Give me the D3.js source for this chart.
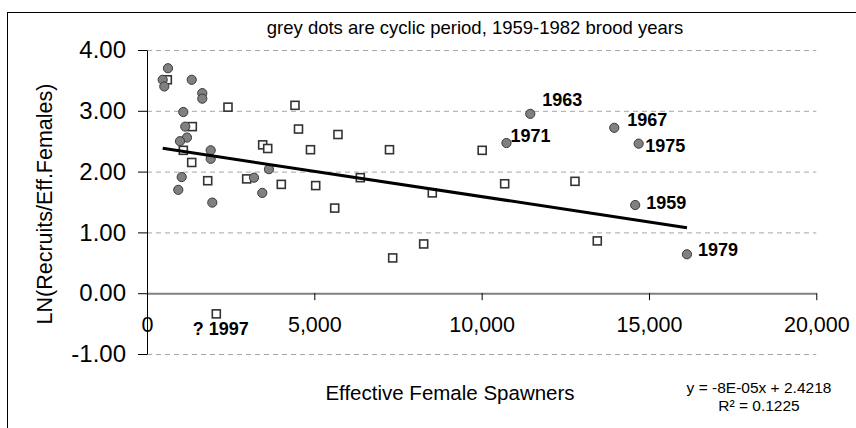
<!DOCTYPE html>
<html>
<head>
<meta charset="utf-8">
<script src="https://cdn.jsdelivr.net/npm/d3@7"></script>
<style>
body { margin: 0; background: #fff; }
svg { display: block; font-family: Arial, "Liberation Sans", sans-serif; }
.grid line { stroke: #a6a6a6; stroke-dasharray: 5,4; }
.axis text { fill: #000; }
</style>
</head>
<body>
<div id="chart"></div>
<script>
// cyclic period brood years 1959-1982 (grey dots)
var cyclicX = [627, 469, 517, 1336, 1652, 1652, 1085, 1144, 1195, 986, 1903, 1903,
  1037, 935, 1951, 3197, 3645, 3445, 11453, 10742, 13963, 14692, 14588, 16135];
var cyclicY = [3.70, 3.51, 3.40, 3.51, 3.29, 3.20, 2.98, 2.74, 2.56, 2.50, 2.35, 2.21,
  1.91, 1.70, 1.49, 1.90, 2.04, 1.65, 2.95, 2.47, 2.72, 2.46, 1.45, 0.64];

// other brood years (open squares)
var otherX = [607, 2420, 1354, 3457, 3607, 1085, 1336, 1814, 2979, 4013, 4422, 4527,
  5707, 4885, 7246, 5041, 6374, 5609, 8525, 7342, 8268, 10016, 10688, 12789, 13455, 2071];
var otherY = [3.51, 3.06, 2.74, 2.44, 2.38, 2.35, 2.15, 1.85, 1.88, 1.79, 3.09, 2.70,
  2.61, 2.36, 2.36, 1.77, 1.90, 1.40, 1.65, 0.58, 0.81, 2.35, 1.80, 1.84, 0.86, -0.34];

var labelText = ['1963', '1971', '1967', '1975', '1959', '1979', '? 1997'];
var labelX = [11453, 10742, 13963, 14692, 14588, 16135, 2071];
var labelY = [2.95, 2.47, 2.72, 2.46, 1.45, 0.64, -0.34];

var xTicks = [0, 5000, 10000, 15000, 20000];
var yTicks = [-1, 0, 1, 2, 3, 4];
var gridTicks = [-1, 1, 2, 3, 4];

var trendSlope = -8.33e-5;
var trendIntercept = 2.4218;

var title = 'grey dots are cyclic period, 1959-1982 brood years';
var equationLines = ['y = -8E-05x + 2.4218', 'R\u00b2 = 0.1225'];

(function() {
  var width = 856;
  var height = 428;
  var plot = {left: 147, right: 816.3, top: 50, bottom: 354};

  var x = d3.scaleLinear().domain([0, 20000]).range([plot.left, plot.right]);
  var y = d3.scaleLinear().domain([-1, 4]).range([plot.bottom, plot.top]);

  // label nudges, in pixels, relative to the labelled point
  var labelOffsets = [[12, -8], [4, -1], [13, -2], [6.5, 8], [11, 4], [11, 2], [-23.5, 21.5]];

  var svg = d3.select('#chart').append('svg')
    .attr('width', width)
    .attr('height', height);

  svg.append('rect')
    .attr('x', 7.5)
    .attr('y', 12.5)
    .attr('width', 900)
    .attr('height', 500)
    .attr('fill', '#fff')
    .attr('stroke', '#000')
    .attr('stroke-width', 1);

  svg.append('g')
    .attr('class', 'grid')
    .selectAll('line')
    .data(gridTicks)
    .enter().append('line')
    .attr('x1', plot.left)
    .attr('x2', plot.right)
    .attr('y1', function(d) { return y(d) + 0.5; })
    .attr('y2', function(d) { return y(d) + 0.5; });

  var xAxis = d3.axisBottom(x)
    .tickValues(xTicks)
    .tickSize(7)
    .tickSizeOuter(0)
    .tickPadding(17)
    .tickFormat(d3.format(','));

  var gx = svg.append('g')
    .attr('class', 'x axis')
    .attr('transform', 'translate(0,' + y(0) + ')')
    .call(xAxis);
  gx.select('.domain').attr('stroke', '#808080').attr('stroke-width', 2);
  gx.selectAll('.tick line').attr('stroke', '#000');
  gx.selectAll('text').style('font-size', '21.5px');

  var yAxis = d3.axisLeft(y)
    .tickValues(yTicks)
    .tickSize(9)
    .tickSizeOuter(0)
    .tickPadding(12)
    .tickFormat(function(d) { return d.toFixed(2); });

  var gy = svg.append('g')
    .attr('class', 'y axis')
    .attr('transform', 'translate(' + plot.left + ',0)')
    .call(yAxis);
  gy.selectAll('text').style('font-size', '24px');

  // other years: open squares
  var sq = 8;
  svg.append('g')
    .selectAll('rect')
    .data(otherX.map(function(v, i) { return [v, otherY[i]]; }))
    .enter().append('rect')
    .attr('x', function(d) { return x(d[0]) - sq / 2; })
    .attr('y', function(d) { return y(d[1]) - sq / 2; })
    .attr('width', sq)
    .attr('height', sq)
    .attr('fill', '#fff')
    .attr('stroke', '#333')
    .attr('stroke-width', 1.6);

  // cyclic years: grey dots
  svg.append('g')
    .selectAll('circle')
    .data(cyclicX.map(function(v, i) { return [v, cyclicY[i]]; }))
    .enter().append('circle')
    .attr('cx', function(d) { return x(d[0]); })
    .attr('cy', function(d) { return y(d[1]); })
    .attr('r', 4.6)
    .attr('fill', '#808080')
    .attr('stroke', '#3a3a3a')
    .attr('stroke-width', 1);

  // linear trend over all points
  var allX = cyclicX.concat(otherX);
  var xMin = d3.min(allX);
  var xMax = d3.max(allX);
  svg.append('line')
    .attr('x1', x(xMin))
    .attr('y1', y(trendIntercept + trendSlope * xMin))
    .attr('x2', x(xMax))
    .attr('y2', y(trendIntercept + trendSlope * xMax))
    .attr('stroke', '#000')
    .attr('stroke-width', 3);

  svg.append('g')
    .selectAll('text')
    .data(labelText)
    .enter().append('text')
    .attr('x', function(d, i) { return x(labelX[i]) + labelOffsets[i][0]; })
    .attr('y', function(d, i) { return y(labelY[i]) + labelOffsets[i][1]; })
    .style('font-size', '18px')
    .style('font-weight', 'bold')
    .text(function(d) { return d; });

  svg.append('text')
    .attr('x', 475)
    .attr('y', 34)
    .attr('text-anchor', 'middle')
    .style('font-size', '18.5px')
    .text(title);

  svg.append('text')
    .attr('transform', 'translate(52,204) rotate(-90)')
    .attr('text-anchor', 'middle')
    .style('font-size', '21.5px')
    .text('LN(Recruits/Eff.Females)');

  svg.append('text')
    .attr('x', 450)
    .attr('y', 400)
    .attr('text-anchor', 'middle')
    .style('font-size', '20.5px')
    .text('Effective Female Spawners');

  svg.append('g')
    .selectAll('text')
    .data(equationLines)
    .enter().append('text')
    .attr('x', 759)
    .attr('y', function(d, i) { return 393 + i * 18; })
    .attr('text-anchor', 'middle')
    .style('font-size', '15.5px')
    .text(function(d) { return d; });
})();
</script>
</body>
</html>
